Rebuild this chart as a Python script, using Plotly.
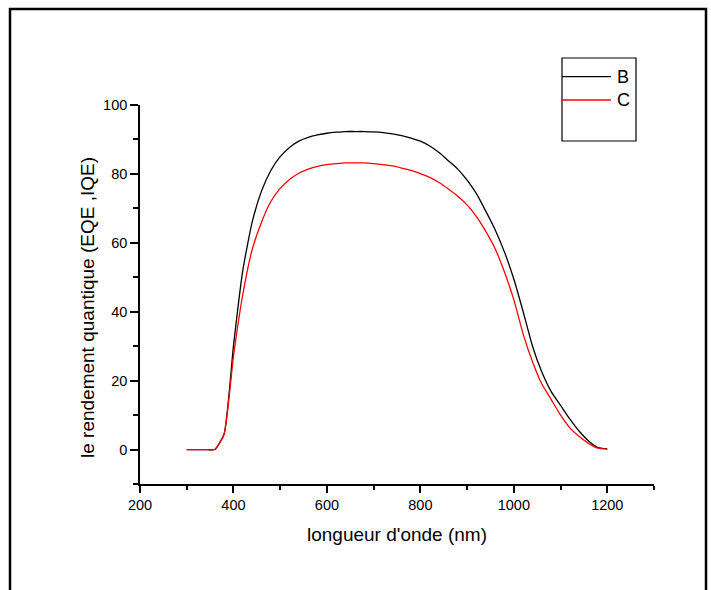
import plotly.graph_objects as go

# ---- data ----
wavelength = [300, 320, 340, 360, 380, 400, 420, 440, 460, 480, 500, 520, 540, 560, 580,
              600, 620, 640, 660, 680, 700, 720, 740, 760, 780, 800, 820, 840, 860, 880,
              900, 920, 940, 960, 980, 1000, 1020, 1040, 1060, 1080, 1100, 1120, 1140,
              1160, 1180, 1200]
series_B = [0, 0, 0, 0, 4.5, 30, 52, 66, 75, 81, 85, 87.7, 89.5, 90.6, 91.3,
            91.8, 92.1, 92.3, 92.3, 92.3, 92.2, 92.0, 91.6, 91.1, 90.4, 89.5, 88.1, 86.2, 83.8, 81.4,
            78.2, 74.3, 69.2, 63.8, 57.3, 49.5, 40.0, 30.0, 22.5, 16.8, 12.8, 8.8, 5.3,
            2.5, 0.6, 0.2]
series_C = [0, 0, 0, 0, 4.5, 27, 45, 58, 66, 72, 75.8, 78.4, 80.2, 81.4, 82.2,
            82.7, 83.0, 83.2, 83.2, 83.2, 83.0, 82.7, 82.3, 81.7, 81.0, 80.1, 79.0, 77.5, 75.6, 73.5,
            71.0, 67.6, 63.3, 58.3, 51.5, 43.5, 33.5, 25.5, 19.0, 14.5, 10.0, 6.3, 3.8,
            1.8, 0.4, 0.1]
series_names = ["B", "C"]
series_colors = ["#000000", "#ff0000"]
x_title = "longueur d'onde (nm)"
y_title = "le rendement quantique (EQE ,IQE)"

FONT = "Liberation Sans, Arial, sans-serif"
W, H = 711, 590
L, R, T, B = 140, 57, 105, 106
PW, PH = W - L - R, H - T - B


def px(xp):
    return (xp - L) / PW


def py(yp):
    return (H - B - yp) / PH


fig = go.Figure()
for name, ys, col in zip(series_names, [series_B, series_C], series_colors):
    fig.add_trace(go.Scatter(x=wavelength, y=ys, mode="lines", name=name,
                             line=dict(color=col, width=1.3, shape="spline", smoothing=0.5),
                             showlegend=False))

axis_common = dict(showline=True, linecolor="black", linewidth=1.6, ticks="outside",
                   tickcolor="black", tickwidth=1.6, showgrid=False, zeroline=False,
                   mirror=False, tickfont=dict(family=FONT, size=14.5, color="black"))

fig.update_xaxes(range=[200, 1300], tick0=200, dtick=200, ticklen=7,
                 minor=dict(dtick=100, tick0=200, ticklen=4, ticks="outside",
                            tickcolor="black", tickwidth=1.6),
                 **axis_common)
fig.update_yaxes(range=[-10, 100], tick0=0, dtick=20, ticklen=8,
                 minor=dict(dtick=10, tick0=0, ticklen=5, ticks="outside",
                            tickcolor="black", tickwidth=1.6),
                 **axis_common)

shapes = []
# outer frame
shapes.append(dict(type="rect", xref="paper", yref="paper",
                   x0=px(10), x1=px(706), y0=py(620), y1=py(9),
                   line=dict(color="black", width=2.5), fillcolor="rgba(0,0,0,0)"))
# legend box
shapes.append(dict(type="rect", xref="paper", yref="paper",
                   x0=px(562), x1=px(636), y0=py(141), y1=py(58),
                   line=dict(color="black", width=1.2), fillcolor="rgba(0,0,0,0)"))
annotations = []
for i, (name, col) in enumerate(zip(series_names, series_colors)):
    yy = [76.7, 100][i]
    shapes.append(dict(type="line", xref="paper", yref="paper",
                       x0=px(562), x1=px(611), y0=py(yy), y1=py(yy),
                       line=dict(color=col, width=1.3)))
    annotations.append(dict(text=name, xref="paper", yref="paper", x=px(615), y=py(yy),
                            xanchor="left", yanchor="middle", showarrow=False,
                            font=dict(family=FONT, size=18, color="black")))

annotations.append(dict(text=x_title, xref="paper", yref="paper", x=px(397), y=py(534),
                        xanchor="center", yanchor="middle", showarrow=False,
                        font=dict(family=FONT, size=19, color="black")))
annotations.append(dict(text=y_title, xref="paper", yref="paper", x=px(87), y=py(308),
                        xanchor="center", yanchor="middle", showarrow=False, textangle=-90,
                        font=dict(family=FONT, size=19, color="black")))

fig.update_layout(width=W, height=H, margin=dict(l=L, r=R, t=T, b=B),
                  paper_bgcolor="white", plot_bgcolor="white",
                  shapes=shapes, annotations=annotations, showlegend=False,
                  font=dict(family=FONT))

fig.write_html("out.html")
